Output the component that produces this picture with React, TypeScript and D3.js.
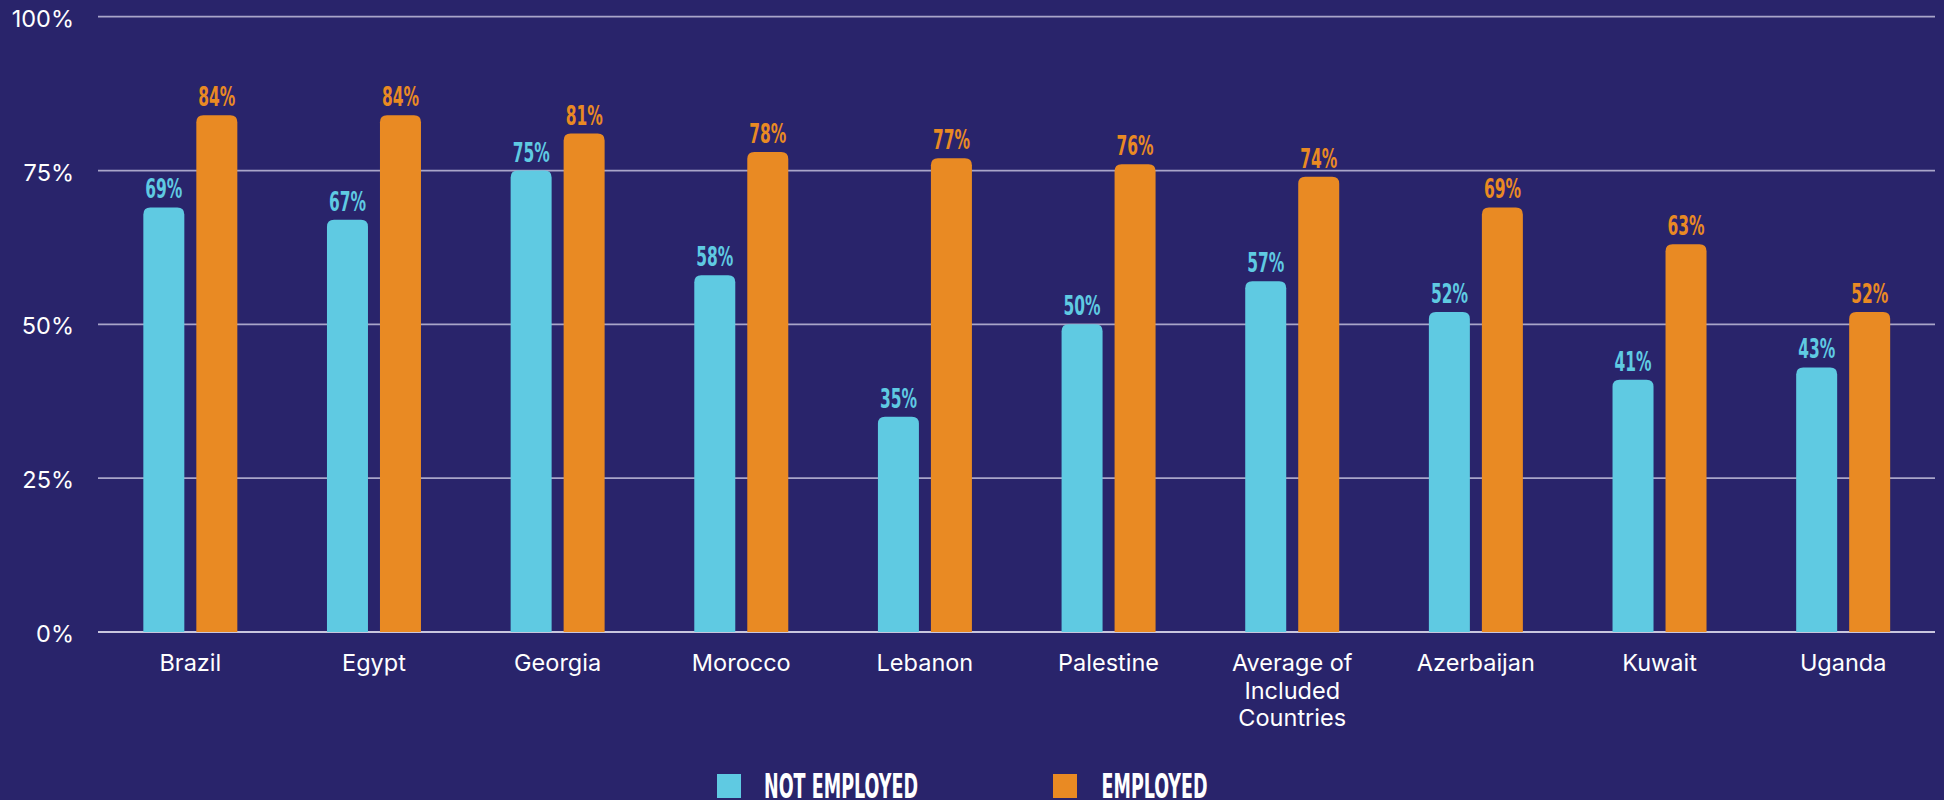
import React from "react";
import * as d3 from "d3";

const categories: string[][] = [
  ["Brazil"],
  ["Egypt"],
  ["Georgia"],
  ["Morocco"],
  ["Lebanon"],
  ["Palestine"],
  ["Average of", "Included", "Countries"],
  ["Azerbaijan"],
  ["Kuwait"],
  ["Uganda"],
];
const notEmployed = [69, 67, 75, 58, 35, 50, 57, 52, 41, 43];
const employed = [84, 84, 81, 78, 77, 76, 74, 69, 63, 52];
const yTicks = [0, 25, 50, 75, 100];
const seriesNames = ["NOT EMPLOYED", "EMPLOYED"];

const W = 1944;
const H = 800;
const BG = "#29246b";
const BLUE = "#5fcae2";
const ORANGE = "#e98a23";
const GRID = "#a9a5c9";
const COND = "'Liberation Sans Narrow', 'DejaVu Sans Condensed', 'Roboto Condensed', sans-serif";
const SANS = "Inter, 'Noto Sans', sans-serif";

function topRounded(x: number, y: number, w: number, h: number, r: number) {
  const rr = Math.min(r, h, w / 2);
  return `M${x},${y + h}V${y + rr}Q${x},${y} ${x + rr},${y}H${x + w - rr}Q${x + w},${y} ${x + w},${y + rr}V${y + h}Z`;
}

export default function App() {
  const keys = categories.map((c) => c.join(" "));
  const x = d3.scaleBand<string>().domain(keys).range([98.5, 1935]).padding(0);
  const y = d3.scaleLinear().domain([0, 100]).range([632, 16.7]);
  const barW = 41;
  const gap = 12;

  return (
    <svg
      width={W}
      height={H}
      style={{ position: "absolute", left: 0, top: 0, display: "block" }}
    >
      <rect x={0} y={0} width={W} height={H} fill={BG} />
      {yTicks.map((t) => (
        <g key={t}>
          <line
            x1={98}
            x2={1935}
            y1={y(t)}
            y2={y(t)}
            stroke={t === 0 ? "#c9c6de" : GRID}
            strokeWidth={1.8}
          />
          <text
            x={74}
            y={y(t) + 10}
            textAnchor="end"
            fill="#ffffff"
            fontFamily={SANS}
            fontSize={23.5}
          >
            {t}%
          </text>
        </g>
      ))}
      {keys.map((k, i) => {
        const cx = (x(k) as number) + x.bandwidth() / 2;
        const bx = cx - gap / 2 - barW;
        const ox = cx + gap / 2;
        const vb = notEmployed[i];
        const vo = employed[i];
        return (
          <g key={k}>
            <path d={topRounded(bx, y(vb), barW, y(0) - y(vb), 7)} fill={BLUE} />
            <path d={topRounded(ox, y(vo), barW, y(0) - y(vo), 7)} fill={ORANGE} />
            <text
              x={bx + barW / 2}
              y={y(vb) - 9}
              textAnchor="middle"
              fill={BLUE}
              fontFamily={COND}
              fontWeight={700}
              fontSize={26}
              textLength={37}
              lengthAdjust="spacingAndGlyphs"
            >
              {vb}%
            </text>
            <text
              x={ox + barW / 2}
              y={y(vo) - 9}
              textAnchor="middle"
              fill={ORANGE}
              fontFamily={COND}
              fontWeight={700}
              fontSize={26}
              textLength={37}
              lengthAdjust="spacingAndGlyphs"
            >
              {vo}%
            </text>
            <text
              x={cx}
              y={671}
              textAnchor="middle"
              fill="#ffffff"
              fontFamily={SANS}
              fontSize={23.5}
            >
              {categories[i].map((line, j) => (
                <tspan key={j} x={cx} dy={j === 0 ? 0 : 27.5}>
                  {line}
                </tspan>
              ))}
            </text>
          </g>
        );
      })}
      {/* legend */}
      <g>
        <rect x={717} y={774} width={24} height={24} fill={BLUE} />
        <text
          x={764}
          y={798}
          fill="#ffffff"
          fontFamily={COND}
          fontWeight={700}
          fontSize={33}
          textLength={154}
          lengthAdjust="spacingAndGlyphs"
        >
          {seriesNames[0]}
        </text>
        <rect x={1053} y={774} width={24} height={24} fill={ORANGE} />
        <text
          x={1101.5}
          y={798}
          fill="#ffffff"
          fontFamily={COND}
          fontWeight={700}
          fontSize={33}
          textLength={106}
          lengthAdjust="spacingAndGlyphs"
        >
          {seriesNames[1]}
        </text>
      </g>
    </svg>
  );
}
